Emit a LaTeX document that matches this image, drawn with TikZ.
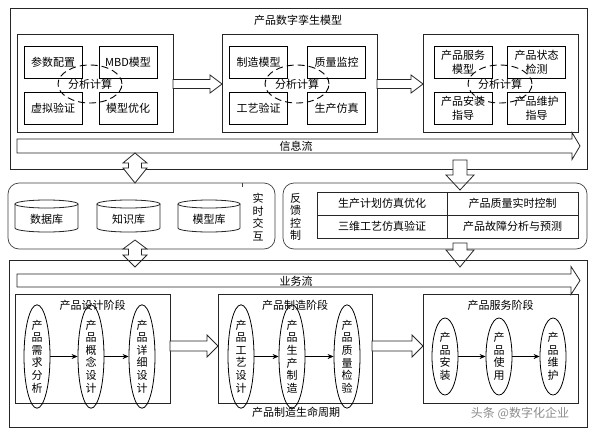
\documentclass[tikz,border=0pt]{standalone}
\usepackage{fontspec}
\setmainfont{Noto Sans CJK SC}
\usetikzlibrary{shapes.geometric,arrows.meta}

% block arrow to the right: x1, x2, y, shaft half, head half, head length
\newcommand\myRarrow[6]{%
  \draw[barrow] (#1,{#3-#4}) -- ({#2-#6},{#3-#4}) -- ({#2-#6},{#3-#5}) -- (#2,#3)
    -- ({#2-#6},{#3+#5}) -- ({#2-#6},{#3+#4}) -- (#1,{#3+#4}) -- cycle;}
% block arrow downward: x, y1, y2, shaft half, head half, head length
\newcommand\myDarrow[6]{%
  \draw[barrow] ({#1-#4},#2) -- ({#1-#4},{#3-#6}) -- ({#1-#5},{#3-#6}) -- (#1,#3)
    -- ({#1+#5},{#3-#6}) -- ({#1+#4},{#3-#6}) -- ({#1+#4},#2) -- cycle;}
% double vertical block arrow: x, ytop, ybot, shaft half, head half, top head len, bottom head len
\newcommand\myVDarrow[7]{%
  \draw[barrow] (#1,#2) -- ({#1+#5},{#2+#6}) -- ({#1+#4},{#2+#6}) -- ({#1+#4},{#3-#7})
    -- ({#1+#5},{#3-#7}) -- (#1,#3) -- ({#1-#5},{#3-#7}) -- ({#1-#4},{#3-#7})
    -- ({#1-#4},{#2+#6}) -- ({#1-#5},{#2+#6}) -- cycle;}
% cylinder: name, x1, x2, ytop, ybottom, label
\newcommand\myCyl[6]{%
  \draw[frame,fill=white] (#2,#4) -- (#2,#5)
    arc[start angle=180,end angle=0,x radius={(#3-#2)/2},y radius=4] -- (#3,#4);
  \draw[frame,fill=white] ({(#2+#3)/2},#4) ellipse[x radius={(#3-#2)/2},y radius=4];
  \node[txt] (#1) at ({(#2+#3)/2},{(#4+#5)/2+3}) {#6};}

\begin{document}
\begin{tikzpicture}[x=1pt,y=-1pt,
  txt/.style={font=\fontsize{11}{13}\selectfont, inner sep=0pt},
  frame/.style={draw=black!85, line width=0.8pt},
  barrow/.style={draw=black!85, line width=0.8pt, fill=white},
  sub/.style={draw=black, line width=1pt, fill=white, minimum width=58pt,
    minimum height=32pt, inner sep=1pt, align=center,
    font=\fontsize{11}{14}\selectfont},
  calc/.style={draw=black, line width=0.9pt, dash pattern=on 7pt off 4pt,
    ellipse, minimum width=64pt, minimum height=38pt, inner sep=0pt,
    font=\fontsize{11}{13}\selectfont},
  vell/.style={draw=black, line width=0.8pt, ellipse, minimum width=26pt,
    minimum height=77pt, inner sep=0pt, align=center,
    font=\fontsize{11}{12.6}\selectfont},
  flow/.style={-{Stealth[length=6pt,width=5pt]}, line width=0.6pt}
]
\useasboundingbox (0,0) rectangle (593,434);
\fill[white] (0,0) rectangle (593,434);

% ===== top: product digital twin model =====
\draw[frame] (10,8) rectangle (587,169);
\node[txt] (ttl) at (298,20) {产品数字孪生模型};

\draw[frame] (17,34) rectangle (173,132);
\draw[frame] (222,34) rectangle (377,132);
\draw[frame] (423,34) rectangle (578,132);

\node[sub] (a1) at (53,62) {参数配置};
\node[sub] (a2) at (128,62) {MBD模型};
\node[sub] (a3) at (53,108) {虚拟验证};
\node[sub] (a4) at (128,108) {模型优化};
\node[calc] (ac) at (90,84) {分析计算};

\node[sub] (b1) at (258.5,62) {制造模型};
\node[sub] (b2) at (336.5,62) {质量监控};
\node[sub] (b3) at (258.5,108) {工艺验证};
\node[sub] (b4) at (336.5,108) {生产仿真};
\node[calc] (bc) at (297,84) {分析计算};

\node[sub] (c1) at (463,62) {产品服务\\模型};
\node[sub] (c2) at (536.5,62) {产品状态\\检测};
\node[sub] (c3) at (463,108) {产品安装\\指导};
\node[sub] (c4) at (536.5,108) {产品维护\\指导};
\node[calc] (cc) at (500,84) {分析计算};

\myRarrow{173}{222}{84}{4.5}{9}{12}
\myRarrow{377}{423}{84}{4.5}{9}{12}

\myRarrow{17}{580}{146}{7}{13.5}{8}
\node[txt] (info) at (296,146.5) {信息流};

% ===== middle =====
\myVDarrow{135}{153}{183}{6.5}{12}{10}{15}
\myDarrow{460}{160}{190}{7}{14}{15}

\draw[draw=black!75, line width=0.7pt, rounded corners=11pt] (8,183) rectangle (275,249);
\draw[draw=black!75, line width=0.7pt] (242,183) -- (242,187);
\myCyl{db1}{15}{78}{204}{228}{数据库}
\myCyl{db2}{97}{160}{204}{228}{知识库}
\myCyl{db3}{178}{240}{204}{228}{模型库}
\node[txt, align=center, font=\fontsize{11}{12.5}\selectfont] (rt) at (258,217) {实\\时\\交\\互};

\draw[draw=black!75, line width=0.7pt, rounded corners=11pt] (283,183) rectangle (587,249);
\node[txt, align=center, font=\fontsize{11}{12.5}\selectfont] (fb) at (295.5,217) {反\\馈\\控\\制};

\draw[frame] (317,192) rectangle (578,238);
\draw[frame] (447,192) -- (447,238);
\draw[frame] (317,215) -- (578,215);
\node[txt] (t1) at (382,203.5) {生产计划仿真优化};
\node[txt] (t2) at (512.5,203.5) {产品质量实时控制};
\node[txt] (t3) at (382,226.5) {三维工艺仿真验证};
\node[txt] (t4) at (512.5,226.5) {产品故障分析与预测};

\myVDarrow{135}{240}{267}{6.5}{12}{9}{12}
\myDarrow{460}{243}{267}{7}{14}{17}

% ===== bottom: lifecycle =====
\draw[frame] (9,260) rectangle (587,427);
\myRarrow{17}{580}{280.5}{6.5}{14}{9}
\node[txt] (biz) at (296,281) {业务流};

\draw[frame] (15,294) rectangle (170,403);
\draw[frame] (218,294) rectangle (372,403);
\draw[frame] (423,294) rectangle (578,403);
\node[txt] (p1) at (92.5,305) {产品设计阶段};
\node[txt] (p2) at (295,305) {产品制造阶段};
\node[txt] (p3) at (500.5,305) {产品服务阶段};

\node[vell] (d1) at (37,356.5) {产\\品\\需\\求\\分\\析};
\node[vell] (d2) at (91,356.5) {产\\品\\概\\念\\设\\计};
\node[vell] (d3) at (142,356.5) {产\\品\\详\\细\\设\\计};
\draw[flow] (d1) -- (d2);
\draw[flow] (d2) -- (d3);

\node[vell] (m1) at (241,356.5) {产\\品\\工\\艺\\设\\计};
\node[vell] (m2) at (292,356.5) {产\\品\\生\\产\\制\\造};
\node[vell] (m3) at (347,356.5) {产\\品\\质\\量\\检\\验};
\draw[flow] (m1) -- (m2);
\draw[flow] (m2) -- (m3);

\node[vell] (s1) at (445,356.5) {产\\品\\安\\装};
\node[vell] (s2) at (499,356.5) {产\\品\\使\\用};
\node[vell] (s3) at (553,356.5) {产\\品\\维\\护};
\draw[flow] (s1) -- (s2);
\draw[flow] (s2) -- (s3);

\myRarrow{170}{218}{346}{5}{11}{11}
\myRarrow{372}{423}{346}{5}{11}{11}

\node[txt] (life) at (296,412.5) {产品制造生命周期};
\node[txt, text=black!45, font=\fontsize{12}{14}\selectfont] (wm) at (520,413) {头条 @数字化企业};
\end{tikzpicture}
\end{document}
